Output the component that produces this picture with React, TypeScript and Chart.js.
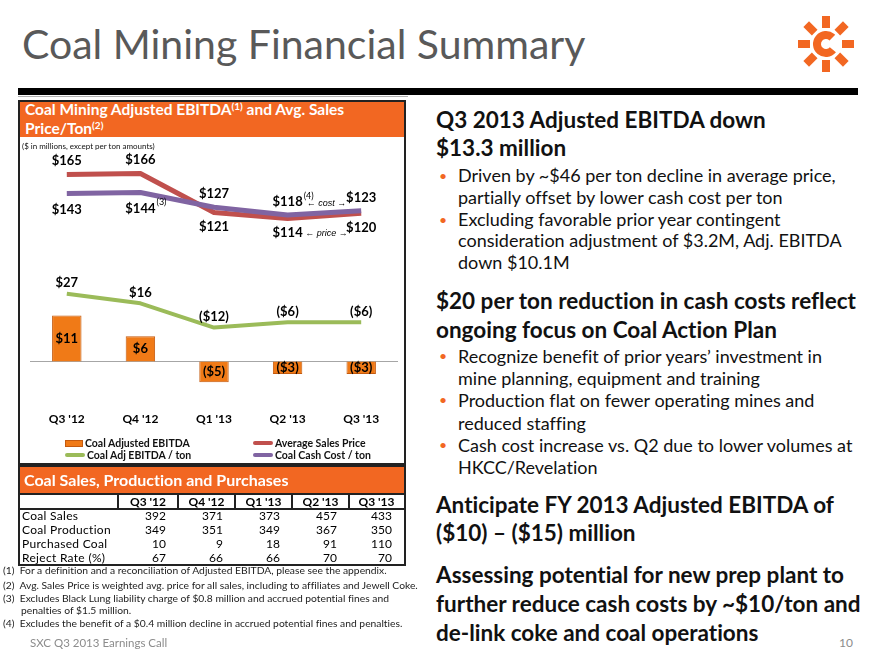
import React, { useEffect, useRef } from "react";
import { Chart, registerables } from "chart.js";

Chart.register(...registerables);

// ---------- data ----------
const categories = ["Q3 '12", "Q4 '12", "Q1 '13", "Q2 '13", "Q3 '13"];
const coalAdjEbitda = [11, 6, -5, -3, -3];
const avgSalesPrice = [165, 166, 121, 114, 120];
const coalAdjEbitdaPerTon = [27, 16, -12, -6, -6];
const coalCashCostPerTon = [143, 144, 127, 118, 123];
const cashCostNotes = ["", "(3)", "", "(4)", ""];

const tableColumns = ["Q3 '12", "Q4 '12", "Q1 '13", "Q2 '13", "Q3 '13"];
const tableRowNames = ["Coal Sales", "Coal Production", "Purchased Coal", "Reject Rate (%)"];
const coalSales = [392, 371, 373, 457, 433];
const coalProduction = [349, 351, 349, 367, 350];
const purchasedCoal = [10, 9, 18, 91, 110];
const rejectRate = [67, 66, 66, 70, 70];

const ORANGE = "#F26722";
const FONT = "Lato, 'Open Sans', sans-serif";

const fmt = (v: number) => (v < 0 ? `($${-v})` : `$${v}`);

const zeroLinePlugin = {
  id: "zeroLine",
  beforeDatasetsDraw(chart: any) {
    const { ctx, chartArea, scales } = chart;
    const y = Math.round(scales.y.getPixelForValue(0)) + 0.5;
    ctx.save();
    ctx.strokeStyle = "#A6A6A6";
    ctx.lineWidth = 1;
    ctx.beginPath();
    ctx.moveTo(chartArea.left, y);
    ctx.lineTo(chartArea.right, y);
    ctx.stroke();
    ctx.restore();
  },
};

const labelPlugin = {
  id: "valueLabels",
  afterDatasetsDraw(chart: any) {
    const ctx = chart.ctx;
    ctx.save();
    ctx.textBaseline = "middle";
    ctx.fillStyle = "#000";
    chart.data.datasets.forEach((ds: any, di: number) => {
      const meta = chart.getDatasetMeta(di);
      const ys: number[] = [];
      meta.data.forEach((el: any, i: number) => {
        const v = ds.data[i];
        let y: number;
        const pos = ds.labelPos(i);
        if (pos === "center") y = (el.y + el.base) / 2;
        else if (pos === "above") y = el.y - ds.labelOffsetAbove;
        else y = el.y + ds.labelOffsetBelow;
        ys.push(y);
        ctx.font = `bold 13px ${FONT}`;
        ctx.textAlign = "center";
        const txt = fmt(v);
        ctx.fillText(txt, el.x, y);
        const note = ds.notes ? ds.notes[i] : "";
        if (note) {
          const w = ctx.measureText(txt).width;
          ctx.font = `9px ${FONT}`;
          ctx.textAlign = "left";
          ctx.fillText(note, el.x + w / 2 + 1, y - 6);
        }
      });
      if (ds.between) {
        const a = meta.data[3];
        const b = meta.data[4];
        ctx.font = `italic 9px 'Liberation Sans Narrow', 'Liberation Sans', sans-serif`;
        ctx.textAlign = "center";
        ctx.fillText(ds.between, (a.x + b.x) / 2 + 2, ys[3] + 1);
      }
    });
    ctx.restore();
  },
};

function EbitdaChart() {
  const ref = useRef<HTMLCanvasElement | null>(null);
  useEffect(() => {
    if (!ref.current) return;
    const chart = new Chart(ref.current, {
      type: "bar",
      data: {
        labels: categories,
        datasets: [
          {
            type: "bar",
            label: "Coal Adjusted EBITDA",
            data: coalAdjEbitda,
            yAxisID: "y",
            backgroundColor: "#F07A17",
            borderColor: "#C45A0E",
            borderWidth: 1,
            barPercentage: 0.5,
            categoryPercentage: 0.8,
            order: 4,
            labelPos: () => "center",
          } as any,
          {
            type: "line",
            label: "Average Sales Price",
            data: avgSalesPrice,
            yAxisID: "y2",
            borderColor: "#C0504D",
            borderWidth: 5,
            pointRadius: 0,
            borderJoinStyle: "round",
            order: 2,
            labelPos: (i: number) => (i < 2 ? "above" : "below"),
            labelOffsetAbove: 14,
            labelOffsetBelow: 14,
            between: "\u2190 price \u2192",
          } as any,
          {
            type: "line",
            label: "Coal Adj EBITDA / ton",
            data: coalAdjEbitdaPerTon,
            yAxisID: "y2",
            borderColor: "#9BBB59",
            borderWidth: 4,
            pointRadius: 0,
            borderJoinStyle: "round",
            order: 3,
            labelPos: () => "above",
            labelOffsetAbove: 11,
            labelOffsetBelow: 0,
          } as any,
          {
            type: "line",
            label: "Coal Cash Cost / ton",
            data: coalCashCostPerTon,
            yAxisID: "y2",
            borderColor: "#8064A2",
            borderWidth: 5,
            pointRadius: 0,
            borderJoinStyle: "round",
            order: 1,
            labelPos: (i: number) => (i < 2 ? "below" : "above"),
            labelOffsetAbove: 13,
            labelOffsetBelow: 16,
            notes: cashCostNotes,
            between: "\u2190 cost \u2192",
          } as any,
        ],
      },
      options: {
        animation: false,
        responsive: false,
        layout: { padding: { left: 10, right: 6, top: 12, bottom: 33 } },
        plugins: { legend: { display: false }, tooltip: { enabled: false } },
        scales: {
          x: {
            grid: { display: false, drawTicks: false },
            border: { display: false },
            ticks: { font: { family: FONT, weight: "bold", size: 12 }, color: "#000", padding: 4 },
          },
          y: { display: false, min: -11.06, max: 50.59 },
          y2: { display: false, min: -104.5, max: 193.2, position: "right" },
        },
      } as any,
      plugins: [zeroLinePlugin, labelPlugin],
    });
    return () => chart.destroy();
  }, []);
  return <canvas ref={ref} width={384} height={325} style={{ display: "block" }} />;
}

const abs = (left: number, top: number, extra: React.CSSProperties = {}): React.CSSProperties => ({
  position: "absolute",
  left,
  top,
  ...extra,
});

function LegendItem({ kind, color, text }: { kind: "bar" | "line"; color: string; text: string }) {
  return (
    <div style={{ display: "flex", alignItems: "center", whiteSpace: "nowrap" }}>
      {kind === "bar" ? (
        <span style={{ width: 18, height: 7, background: color, border: "1px solid #C45A0E", boxSizing: "border-box", marginRight: 2 }} />
      ) : (
        <span style={{ width: 20, height: 4, background: color, borderRadius: 2, marginRight: 2 }} />
      )}
      <span>{text}</span>
    </div>
  );
}

function Bullet({ children }: { children: React.ReactNode }) {
  return (
    <div style={{ position: "relative", paddingLeft: 21 }}>
      <span style={{ position: "absolute", left: 2, top: 0, color: ORANGE, fontSize: 14 }}>•</span>
      {children}
    </div>
  );
}

export default function App() {
  const tableValues = [coalSales, coalProduction, purchasedCoal, rejectRate];
  // column edges in page pixels
  const colEdges = [20, 118, 178, 235, 292, 349, 404];
  const headStyle: React.CSSProperties = {
    fontFamily: FONT,
    fontWeight: 700,
    fontSize: 22.5,
    color: "#111",
    whiteSpace: "nowrap",
    fontVariantLigatures: "none",
  };
  const bulletStyle: React.CSSProperties = {
    fontFamily: FONT,
    fontSize: 18,
    color: "#111",
    whiteSpace: "nowrap",
    fontVariantLigatures: "none",
  };

  return (
    <div style={{ position: "absolute", left: 0, top: 0, width: 880, height: 660, background: "#fff", overflow: "hidden", fontFamily: FONT, fontVariantLigatures: "none" }}>
      {/* Title */}
      <div style={abs(22, 23, { fontSize: 41, lineHeight: "42px", color: "#595959", whiteSpace: "nowrap" })}>Coal Mining Financial Summary</div>
      {/* Logo */}
      <svg width="60" height="60" viewBox="0 0 60 60" style={abs(796, 14)}>
        {[0, 45, 90, 135, 180, 225, 270, 315].map((a) => (
          <rect key={a} x={16} y={-4} width={12} height={8} fill={ORANGE} transform={`translate(30 30) rotate(${a})`} />
        ))}
        <circle cx={30} cy={30} r={9} fill="none" stroke={ORANGE} strokeWidth={8} strokeDasharray="43 13.5" transform="rotate(40 30 30)" />
      </svg>
      {/* Bars under title */}
      <div style={abs(18, 88, { width: 840, height: 7, background: "#000" })} />
      <div style={abs(18, 96, { width: 390, height: 1, background: "#B0B0B0" })} />

      {/* Chart box */}
      <div style={abs(18, 100, { width: 388, height: 37, background: ORANGE, borderTop: "2px solid #222", borderLeft: "2px solid #222", borderRight: "2px solid #222", boxSizing: "border-box" })} />
      <div style={abs(25, 100, { color: "#fff", fontWeight: 700, fontSize: 15.5, lineHeight: "19px", whiteSpace: "nowrap" })}>
        <div>
          Coal Mining Adjusted EBITDA<sup style={{ fontSize: 10, verticalAlign: 5, lineHeight: 0 }}>(1)</sup> and Avg. Sales
        </div>
        <div>
          Price/Ton<sup style={{ fontSize: 10, verticalAlign: 5, lineHeight: 0 }}>(2)</sup>
        </div>
      </div>
      <div style={abs(18, 137, { width: 388, height: 328, border: "2px solid #222", borderTop: "none", boxSizing: "border-box" })} />
      <div style={abs(20, 138)}>
        <EbitdaChart />
      </div>
      <div style={abs(22, 140, { fontSize: 8, lineHeight: "12px", color: "#111", whiteSpace: "nowrap" })}>($ in millions, except per ton amounts)</div>
      {/* Legend */}
      <div style={abs(65, 437, { fontSize: 10.5, fontWeight: 700, lineHeight: "12px", color: "#111" })}>
        <LegendItem kind="bar" color="#F07A17" text="Coal Adjusted EBITDA" />
        <LegendItem kind="line" color="#9BBB59" text="Coal Adj EBITDA / ton" />
      </div>
      <div style={abs(253, 437, { fontSize: 10.5, fontWeight: 700, lineHeight: "12px", color: "#111" })}>
        <LegendItem kind="line" color="#C0504D" text="Average Sales Price" />
        <LegendItem kind="line" color="#8064A2" text="Coal Cash Cost / ton" />
      </div>

      {/* Table */}
      <div style={abs(18, 465, { width: 388, height: 29, background: ORANGE, border: "2px solid #222", borderBottom: "none", boxSizing: "border-box" })} />
      <div style={abs(24, 467, { color: "#fff", fontWeight: 700, fontSize: 16, lineHeight: "26px", whiteSpace: "nowrap" })}>Coal Sales, Production and Purchases</div>
      <div style={abs(18, 493, { width: 388, height: 73, border: "2px solid #222", boxSizing: "border-box" })} />
      {/* header row */}
      <div style={abs(20, 508, { width: 384, height: 1.5, background: "#222" })} />
      {colEdges.slice(1, 6).map((x) => (
        <div key={x} style={abs(x - 1, 495, { width: 1.5, height: 14, background: "#222" })} />
      ))}
      {tableColumns.map((c, i) => (
        <div key={c} style={abs(colEdges[i + 1], 495, { width: colEdges[i + 2] - colEdges[i + 1], height: 13, lineHeight: "13px", fontSize: 12, fontWeight: 700, textAlign: "center", whiteSpace: "nowrap" })}>
          {c}
        </div>
      ))}
      {tableRowNames.map((name, r) => (
        <React.Fragment key={name}>
          <div style={abs(22, 509 + r * 14, { height: 14, lineHeight: "14px", fontSize: 12, letterSpacing: 0.3, whiteSpace: "nowrap" })}>{name}</div>
          {tableValues[r].map((v, i) => (
            <div key={i} style={abs(colEdges[i + 1], 509 + r * 14, { width: colEdges[i + 2] - colEdges[i + 1] - 12, height: 14, lineHeight: "14px", fontSize: 12, textAlign: "right" })}>
              {v}
            </div>
          ))}
        </React.Fragment>
      ))}

      {/* Footnotes */}
      <div style={abs(3, 563, { fontSize: 10.3, lineHeight: "14px", color: "#222", whiteSpace: "nowrap" })}>
        <div style={{ height: 15 }}>(1)&nbsp; For a definition and a reconciliation of Adjusted EBITDA, please see the appendix.</div>
        <div style={{ height: 13 }}>(2)&nbsp; Avg. Sales Price is weighted avg. price for all sales, including to affiliates and Jewell Coke.</div>
        <div style={{ height: 12 }}>(3)&nbsp; Excludes Black Lung liability charge of $0.8 million and accrued potential fines and</div>
        <div style={{ height: 13, paddingLeft: 18 }}>penalties of $1.5 million.</div>
        <div style={{ height: 15 }}>(4)&nbsp; Excludes the benefit of a $0.4 million decline in accrued potential fines and penalties.</div>
      </div>
      <div style={abs(30, 635, { fontSize: 11.5, lineHeight: "16px", color: "#8C8C8C", whiteSpace: "nowrap" })}>SXC Q3 2013 Earnings Call</div>
      <div style={abs(839, 635, { fontSize: 12, lineHeight: "16px", color: "#8C8C8C" })}>10</div>

      {/* Right-hand text */}
      <div style={abs(436, 106, { ...headStyle, lineHeight: "28px" })}>
        <div>Q3 2013 Adjusted EBITDA down</div>
        <div>$13.3 million</div>
      </div>
      <div style={abs(437, 165, { ...bulletStyle, lineHeight: "21.8px" })}>
        <Bullet>Driven by ~$46 per ton decline in average price,</Bullet>
        <div style={{ paddingLeft: 21 }}>partially offset by lower cash cost per ton</div>
        <Bullet>Excluding favorable prior year contingent</Bullet>
        <div style={{ paddingLeft: 21 }}>consideration adjustment of $3.2M, Adj. EBITDA</div>
        <div style={{ paddingLeft: 21 }}>down $10.1M</div>
      </div>
      <div style={abs(436, 286, { ...headStyle, lineHeight: "29px" })}>
        <div>$20 per ton reduction in cash costs reflect</div>
        <div>ongoing focus on Coal Action Plan</div>
      </div>
      <div style={abs(437, 345, { ...bulletStyle, lineHeight: "22.2px" })}>
        <Bullet>Recognize benefit of prior years’ investment in</Bullet>
        <div style={{ paddingLeft: 21 }}>mine planning, equipment and training</div>
        <Bullet>Production flat on fewer operating mines and</Bullet>
        <div style={{ paddingLeft: 21 }}>reduced staffing</div>
        <Bullet>Cash cost increase vs. Q2 due to lower volumes at</Bullet>
        <div style={{ paddingLeft: 21 }}>HKCC/Revelation</div>
      </div>
      <div style={abs(436, 491, { ...headStyle, lineHeight: "28px" })}>
        <div>Anticipate FY 2013 Adjusted EBITDA of</div>
        <div>($10) – ($15) million</div>
      </div>
      <div style={abs(436, 560, { ...headStyle, lineHeight: "29px" })}>
        <div>Assessing potential for new prep plant to</div>
        <div>further reduce cash costs by ~$10/ton and</div>
        <div>de-link coke and coal operations</div>
      </div>
    </div>
  );
}
